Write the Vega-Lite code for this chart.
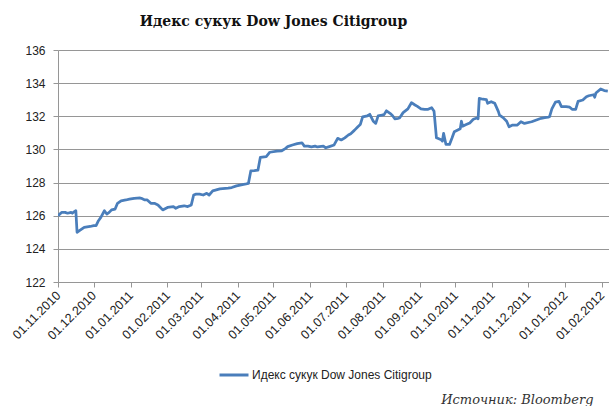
{
  "$schema": "https://vega.github.io/schema/vega-lite/v6.json",
  "autosize": {"type": "none"},
  "padding": {"left": 58, "top": 50, "right": 0, "bottom": 124},
  "width": 551,
  "height": 232,
  "background": "white",
  "title": {
    "text": "Идекс сукук Dow Jones Citigroup",
    "font": "DejaVu Serif",
    "fontSize": 14,
    "fontWeight": "bold",
    "color": "#111111",
    "anchor": "middle",
    "frame": "group",
    "dx": -60,
    "offset": 15
  },
  "data": {
    "values": [
      {"date": "2010-11-01", "value": 126.0},
      {"date": "2010-11-04", "value": 126.2},
      {"date": "2010-11-07", "value": 126.2},
      {"date": "2010-11-09", "value": 126.15},
      {"date": "2010-11-12", "value": 126.2},
      {"date": "2010-11-13", "value": 126.15},
      {"date": "2010-11-16", "value": 126.3},
      {"date": "2010-11-17", "value": 125.0},
      {"date": "2010-11-19", "value": 125.1},
      {"date": "2010-11-23", "value": 125.3},
      {"date": "2010-11-28", "value": 125.35},
      {"date": "2010-12-01", "value": 125.4},
      {"date": "2010-12-03", "value": 125.4},
      {"date": "2010-12-05", "value": 125.7},
      {"date": "2010-12-07", "value": 125.9},
      {"date": "2010-12-10", "value": 126.3},
      {"date": "2010-12-12", "value": 126.1},
      {"date": "2010-12-14", "value": 126.2},
      {"date": "2010-12-16", "value": 126.35},
      {"date": "2010-12-19", "value": 126.4},
      {"date": "2010-12-21", "value": 126.75},
      {"date": "2010-12-24", "value": 126.9},
      {"date": "2010-12-28", "value": 126.95},
      {"date": "2010-12-31", "value": 127.0},
      {"date": "2011-01-04", "value": 127.05},
      {"date": "2011-01-09", "value": 127.07},
      {"date": "2011-01-10", "value": 127.05},
      {"date": "2011-01-13", "value": 126.95},
      {"date": "2011-01-15", "value": 126.95},
      {"date": "2011-01-18", "value": 126.75},
      {"date": "2011-01-21", "value": 126.75},
      {"date": "2011-01-24", "value": 126.65},
      {"date": "2011-01-28", "value": 126.35},
      {"date": "2011-02-01", "value": 126.5},
      {"date": "2011-02-06", "value": 126.55},
      {"date": "2011-02-08", "value": 126.45},
      {"date": "2011-02-11", "value": 126.55},
      {"date": "2011-02-15", "value": 126.6},
      {"date": "2011-02-18", "value": 126.55},
      {"date": "2011-02-21", "value": 126.65},
      {"date": "2011-02-23", "value": 127.25},
      {"date": "2011-02-25", "value": 127.3},
      {"date": "2011-02-28", "value": 127.3},
      {"date": "2011-03-03", "value": 127.25},
      {"date": "2011-03-06", "value": 127.35},
      {"date": "2011-03-08", "value": 127.25},
      {"date": "2011-03-11", "value": 127.5},
      {"date": "2011-03-17", "value": 127.62},
      {"date": "2011-03-24", "value": 127.67},
      {"date": "2011-03-27", "value": 127.7},
      {"date": "2011-03-31", "value": 127.8},
      {"date": "2011-04-03", "value": 127.85},
      {"date": "2011-04-07", "value": 127.9},
      {"date": "2011-04-10", "value": 127.95},
      {"date": "2011-04-12", "value": 128.7},
      {"date": "2011-04-15", "value": 128.72},
      {"date": "2011-04-18", "value": 128.75},
      {"date": "2011-04-20", "value": 129.52},
      {"date": "2011-04-25", "value": 129.57},
      {"date": "2011-04-28", "value": 129.83},
      {"date": "2011-05-04", "value": 129.9},
      {"date": "2011-05-08", "value": 129.92},
      {"date": "2011-05-11", "value": 130.05},
      {"date": "2011-05-13", "value": 130.17},
      {"date": "2011-05-17", "value": 130.27},
      {"date": "2011-05-21", "value": 130.35},
      {"date": "2011-05-25", "value": 130.4},
      {"date": "2011-05-27", "value": 130.2},
      {"date": "2011-05-30", "value": 130.2},
      {"date": "2011-06-02", "value": 130.15},
      {"date": "2011-06-05", "value": 130.2},
      {"date": "2011-06-07", "value": 130.15},
      {"date": "2011-06-12", "value": 130.2},
      {"date": "2011-06-14", "value": 130.1},
      {"date": "2011-06-17", "value": 130.17},
      {"date": "2011-06-21", "value": 130.27},
      {"date": "2011-06-24", "value": 130.67},
      {"date": "2011-06-27", "value": 130.57},
      {"date": "2011-06-30", "value": 130.7},
      {"date": "2011-07-03", "value": 130.87},
      {"date": "2011-07-05", "value": 130.95},
      {"date": "2011-07-08", "value": 131.15},
      {"date": "2011-07-11", "value": 131.37},
      {"date": "2011-07-13", "value": 131.5},
      {"date": "2011-07-15", "value": 131.97},
      {"date": "2011-07-19", "value": 132.03},
      {"date": "2011-07-21", "value": 132.12},
      {"date": "2011-07-24", "value": 131.7},
      {"date": "2011-07-26", "value": 131.57},
      {"date": "2011-07-28", "value": 132.03},
      {"date": "2011-07-31", "value": 132.07},
      {"date": "2011-08-02", "value": 132.1},
      {"date": "2011-08-04", "value": 132.33},
      {"date": "2011-08-07", "value": 132.18},
      {"date": "2011-08-09", "value": 132.05},
      {"date": "2011-08-11", "value": 131.85},
      {"date": "2011-08-14", "value": 131.88},
      {"date": "2011-08-15", "value": 131.9},
      {"date": "2011-08-18", "value": 132.22},
      {"date": "2011-08-22", "value": 132.45},
      {"date": "2011-08-25", "value": 132.82},
      {"date": "2011-08-28", "value": 132.68},
      {"date": "2011-08-30", "value": 132.6},
      {"date": "2011-09-02", "value": 132.45},
      {"date": "2011-09-05", "value": 132.42},
      {"date": "2011-09-08", "value": 132.42},
      {"date": "2011-09-11", "value": 132.52},
      {"date": "2011-09-13", "value": 132.3},
      {"date": "2011-09-15", "value": 130.7},
      {"date": "2011-09-19", "value": 130.58},
      {"date": "2011-09-20", "value": 130.5},
      {"date": "2011-09-21", "value": 130.97},
      {"date": "2011-09-23", "value": 130.3},
      {"date": "2011-09-26", "value": 130.3},
      {"date": "2011-09-28", "value": 130.67},
      {"date": "2011-09-30", "value": 131.07},
      {"date": "2011-10-05", "value": 131.25},
      {"date": "2011-10-06", "value": 131.7},
      {"date": "2011-10-07", "value": 131.4},
      {"date": "2011-10-10", "value": 131.5},
      {"date": "2011-10-13", "value": 131.6},
      {"date": "2011-10-16", "value": 131.82},
      {"date": "2011-10-19", "value": 131.9},
      {"date": "2011-10-20", "value": 131.85},
      {"date": "2011-10-21", "value": 133.08},
      {"date": "2011-10-24", "value": 133.03},
      {"date": "2011-10-27", "value": 133.0},
      {"date": "2011-10-28", "value": 132.78},
      {"date": "2011-10-31", "value": 132.88},
      {"date": "2011-11-03", "value": 132.78},
      {"date": "2011-11-06", "value": 132.3},
      {"date": "2011-11-07", "value": 132.07},
      {"date": "2011-11-10", "value": 131.92},
      {"date": "2011-11-13", "value": 131.7},
      {"date": "2011-11-15", "value": 131.37},
      {"date": "2011-11-18", "value": 131.47},
      {"date": "2011-11-22", "value": 131.47},
      {"date": "2011-11-25", "value": 131.67},
      {"date": "2011-11-28", "value": 131.57},
      {"date": "2011-12-04", "value": 131.67},
      {"date": "2011-12-08", "value": 131.78},
      {"date": "2011-12-12", "value": 131.88},
      {"date": "2011-12-15", "value": 131.92},
      {"date": "2011-12-18", "value": 131.95},
      {"date": "2011-12-19", "value": 131.97},
      {"date": "2011-12-21", "value": 132.45},
      {"date": "2011-12-24", "value": 132.85},
      {"date": "2011-12-27", "value": 132.9},
      {"date": "2011-12-29", "value": 132.58},
      {"date": "2012-01-02", "value": 132.58},
      {"date": "2012-01-05", "value": 132.55},
      {"date": "2012-01-07", "value": 132.42},
      {"date": "2012-01-10", "value": 132.42},
      {"date": "2012-01-12", "value": 132.9},
      {"date": "2012-01-16", "value": 132.98},
      {"date": "2012-01-19", "value": 133.18},
      {"date": "2012-01-21", "value": 133.24},
      {"date": "2012-01-25", "value": 133.3},
      {"date": "2012-01-26", "value": 133.15},
      {"date": "2012-01-27", "value": 133.4},
      {"date": "2012-01-31", "value": 133.65},
      {"date": "2012-02-03", "value": 133.55},
      {"date": "2012-02-06", "value": 133.52}
    ]
  },
  "mark": {"type": "line", "strokeWidth": 2.75, "strokeJoin": "round", "clip": true},
  "encoding": {
    "x": {
      "field": "date",
      "type": "temporal",
      "scale": {
        "type": "utc",
        "domain": [
          {"year": 2010, "month": 11, "date": 1, "utc": true},
          {"year": 2012, "month": 2, "date": 7, "utc": true}
        ]
      },
      "axis": {
        "title": "Источник:  Bloomberg",
        "titleFont": "DejaVu Serif",
        "titleFontStyle": "italic",
        "titleFontWeight": "normal",
        "titleFontSize": 13,
        "titleColor": "#333333",
        "titleAngle": 0,
        "titleAlign": "right",
        "titleBaseline": "alphabetic",
        "titleX": 535,
        "titleY": 121,
        "tickCount": {"interval": "month", "step": 1},
        "format": "%d.%m.%Y",
        "labelAngle": -45,
        "labelAlign": "right",
        "labelBaseline": "middle",
        "labelPadding": 6,
        "labelFlush": false,
        "labelBound": false,
        "labelOverlap": false,
        "labelFont": "Liberation Sans",
        "labelFontSize": 12.5,
        "labelColor": "#222222",
        "tickSize": 5,
        "tickColor": "#969696",
        "domainColor": "#969696",
        "grid": false
      }
    },
    "y": {
      "field": "value",
      "type": "quantitative",
      "scale": {"domain": [122, 136], "zero": false, "nice": false},
      "axis": {
        "title": null,
        "values": [122, 124, 126, 128, 130, 132, 134, 136],
        "labelFont": "Liberation Sans",
        "labelFontSize": 12,
        "labelColor": "#222222",
        "labelPadding": 8,
        "tickSize": 5,
        "tickColor": "#969696",
        "domainColor": "#969696",
        "grid": true,
        "gridColor": "#969696",
        "gridWidth": 1
      }
    },
    "color": {
      "datum": "Идекс сукук Dow Jones Citigroup",
      "type": "nominal",
      "scale": {"range": ["#4a7ebb"]},
      "legend": {
        "orient": "none",
        "legendX": 160,
        "legendY": 309,
        "title": null,
        "symbolType": "stroke",
        "symbolSize": 841,
        "symbolStrokeWidth": 3,
        "labelFont": "Liberation Sans",
        "labelFontSize": 12,
        "labelColor": "#222222",
        "labelOffset": 2,
        "labelLimit": 0,
        "padding": 0
      }
    }
  },
  "config": {"view": {"stroke": null}}
}
